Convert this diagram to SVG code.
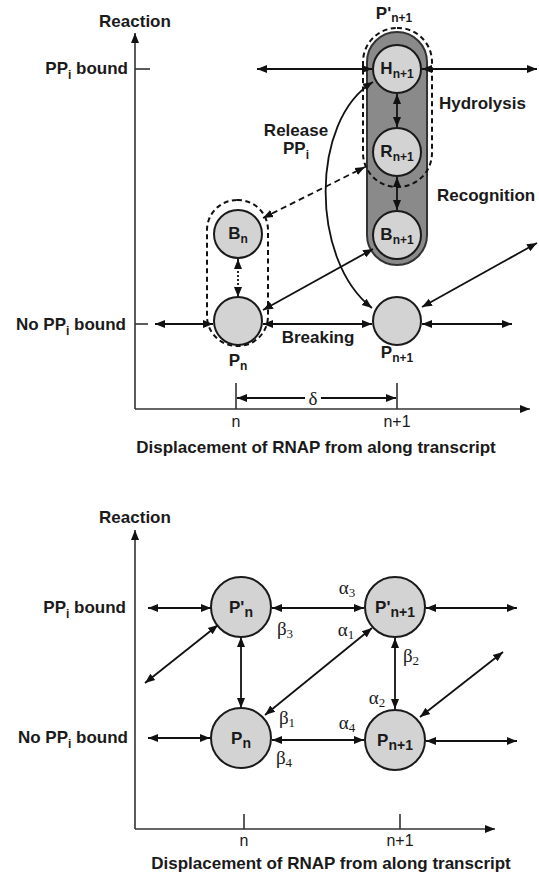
<svg xmlns="http://www.w3.org/2000/svg" width="539" height="878" viewBox="0 0 539 878">
<defs>
<marker id="ah" viewBox="0 0 10 10" refX="10" refY="5" markerWidth="10" markerHeight="10" markerUnits="userSpaceOnUse" orient="auto-start-reverse"><path d="M0,1 L10,5 L0,9 z" fill="#111"/></marker>
</defs>
<style>
.t{font-family:"Liberation Sans",Arial,sans-serif;font-weight:bold;font-size:17px;fill:#1a1a1a}
.s{font-size:12px}
.n{font-family:"Liberation Sans",Arial,sans-serif;font-size:16px;fill:#1a1a1a}
.g{font-family:"Liberation Serif","Times New Roman",serif;font-size:19px;fill:#1a1a1a}
.ax{stroke:#333;stroke-width:1.6;fill:none}
.axa{stroke:#333;stroke-width:1.6;fill:none;marker-end:url(#ah)}
.c{stroke:#1a1a1a;stroke-width:2;fill:#d3d3d3}
.a{stroke:#111;stroke-width:1.8;fill:none;marker-start:url(#ah);marker-end:url(#ah)}
.d{stroke:#111;stroke-width:2;fill:none;stroke-dasharray:5 3.5}
</style>
<rect width="539" height="878" fill="#fff"/>

<!-- ===== TOP DIAGRAM ===== -->
<g id="axes-top">
<line class="axa" x1="135" y1="409" x2="135" y2="33"/>
<line class="axa" x1="135" y1="409" x2="530" y2="409"/>
<line class="ax" x1="135" y1="69" x2="150" y2="69"/>
<line class="ax" x1="135" y1="324" x2="148" y2="324"/>
<line class="ax" x1="236" y1="383" x2="236" y2="409"/>
<line class="ax" x1="397" y1="383" x2="397" y2="409"/>
<text class="t" x="135" y="27" text-anchor="middle">Reaction</text>
<text class="t" x="128" y="74" text-anchor="end">PP<tspan class="s" dy="5">i</tspan><tspan dy="-5"> bound</tspan></text>
<text class="t" x="126" y="330" text-anchor="end">No PP<tspan class="s" dy="5">i</tspan><tspan dy="-5"> bound</tspan></text>
<text class="n" x="236" y="427" text-anchor="middle">n</text>
<text class="n" x="397" y="427" text-anchor="middle">n+1</text>
<text class="t" x="316" y="453" text-anchor="middle">Displacement of RNAP from along transcript</text>
</g>

<g id="capsule">
<rect x="367" y="32" width="60" height="233" rx="30" fill="#8a8a8a" stroke="#333" stroke-width="2"/>
</g>

<g id="group-Pn1prime">
<rect class="d" x="363" y="28" width="69" height="159" rx="34"/>
<text class="t" x="394" y="19" text-anchor="middle">P'<tspan class="s" font-size="13" dy="3">n+1</tspan></text>
</g>

<g id="group-Pn">
<rect class="d" x="207" y="200" width="61" height="146" rx="30"/>
</g>

<g id="connectors-top">
<line class="a" x1="257" y1="69" x2="372" y2="69"/>
<line class="a" x1="422" y1="69" x2="537" y2="69"/>
<line class="a" x1="397" y1="94" x2="397" y2="127"/>
<line class="a" x1="397" y1="177" x2="397" y2="210"/>
<path class="a" d="M373,82 C310,120 310,260 372,308"/>
<line class="a" x1="263" y1="218" x2="365" y2="167" stroke-dasharray="6 4"/>
<line class="a" x1="238" y1="259" x2="238" y2="297" stroke-dasharray="2 2"/>
<line class="a" x1="373" y1="249" x2="263" y2="310"/>
<line class="a" x1="422" y1="307" x2="537" y2="243"/>
<line class="a" x1="155" y1="324" x2="213" y2="324"/>
<line class="a" x1="263" y1="324" x2="372" y2="324"/>
<line class="a" x1="422" y1="324" x2="512" y2="324"/>
<line class="a" x1="237" y1="398" x2="396" y2="398"/>
</g>
<rect x="305" y="387" width="16" height="20" fill="#fff"/>
<text class="g" x="313" y="405" text-anchor="middle">δ</text>

<g id="node-H">
<circle class="c" cx="397" cy="69" r="24"/>
<text class="t" x="397" y="74" text-anchor="middle">H<tspan class="s" font-size="13" dy="4">n+1</tspan></text>
</g>
<g id="node-R">
<circle class="c" cx="397" cy="152" r="24"/>
<text class="t" x="397" y="157" text-anchor="middle">R<tspan class="s" font-size="13" dy="4">n+1</tspan></text>
</g>
<g id="node-Bn1">
<circle class="c" cx="397" cy="235" r="24"/>
<text class="t" x="397" y="240" text-anchor="middle">B<tspan class="s" font-size="13" dy="4">n+1</tspan></text>
</g>
<g id="node-Bn">
<circle class="c" cx="238" cy="234" r="24"/>
<text class="t" x="238" y="239" text-anchor="middle">B<tspan class="s" font-size="13" dy="4">n</tspan></text>
</g>
<g id="node-Pn">
<circle class="c" cx="238" cy="321" r="24"/>
<text class="t" x="238" y="366" text-anchor="middle">P<tspan class="s" font-size="13" dy="4">n</tspan></text>
</g>
<g id="node-Pn1">
<circle class="c" cx="397" cy="321" r="24"/>
<text class="t" x="397" y="358" text-anchor="middle">P<tspan class="s" font-size="13" dy="4">n+1</tspan></text>
</g>

<g id="labels-top">
<text class="t" x="439" y="109">Hydrolysis</text>
<text class="t" x="437" y="201">Recognition</text>
<text class="t" x="296" y="136" text-anchor="middle">Release</text>
<text class="t" x="296" y="154" text-anchor="middle">PP<tspan class="s" dy="5">i</tspan></text>
<text class="t" x="318" y="343" text-anchor="middle" font-size="14.5">Breaking</text>
</g>

<!-- ===== BOTTOM DIAGRAM ===== -->
<g id="axes-bottom">
<line class="axa" x1="135" y1="829" x2="135" y2="530"/>
<line class="axa" x1="135" y1="829" x2="495" y2="829"/>
<line class="ax" x1="244" y1="814" x2="244" y2="829"/>
<line class="ax" x1="400" y1="814" x2="400" y2="829"/>
<text class="t" x="135" y="523" text-anchor="middle">Reaction</text>
<text class="t" x="126" y="613" text-anchor="end">PP<tspan class="s" dy="5">i</tspan><tspan dy="-5"> bound</tspan></text>
<text class="t" x="128" y="743" text-anchor="end">No PP<tspan class="s" dy="5">i</tspan><tspan dy="-5"> bound</tspan></text>
<text class="n" x="244" y="846" text-anchor="middle">n</text>
<text class="n" x="400" y="846" text-anchor="middle">n+1</text>
<text class="t" x="331" y="869" text-anchor="middle">Displacement of RNAP from along transcript</text>
</g>

<g id="connectors-bottom">
<line class="a" x1="148" y1="608" x2="211" y2="608"/>
<line class="a" x1="272" y1="608" x2="364" y2="608"/>
<line class="a" x1="426" y1="608" x2="517" y2="608"/>
<line class="a" x1="241" y1="637" x2="241" y2="708"/>
<line class="a" x1="218" y1="625" x2="145" y2="683"/>
<line class="a" x1="372" y1="628" x2="265" y2="715"/>
<line class="a" x1="395" y1="638" x2="395" y2="709"/>
<line class="a" x1="420" y1="717" x2="503" y2="652"/>
<line class="a" x1="148" y1="738" x2="210" y2="738"/>
<line class="a" x1="272" y1="740" x2="364" y2="740"/>
<line class="a" x1="426" y1="741" x2="517" y2="741"/>
</g>

<g id="greek">
<text class="g" x="347" y="594" text-anchor="middle">α<tspan font-size="13" dy="3">3</tspan></text>
<text class="g" x="285" y="635" text-anchor="middle">β<tspan font-size="13" dy="3">3</tspan></text>
<text class="g" x="346" y="636" text-anchor="middle">α<tspan font-size="13" dy="3">1</tspan></text>
<text class="g" x="411" y="662" text-anchor="middle">β<tspan font-size="13" dy="3">2</tspan></text>
<text class="g" x="377" y="704" text-anchor="middle">α<tspan font-size="13" dy="3">2</tspan></text>
<text class="g" x="287" y="724" text-anchor="middle">β<tspan font-size="13" dy="3">1</tspan></text>
<text class="g" x="347" y="729" text-anchor="middle">α<tspan font-size="13" dy="3">4</tspan></text>
<text class="g" x="284" y="764" text-anchor="middle">β<tspan font-size="13" dy="3">4</tspan></text>
</g>

<g id="node-Ppn">
<circle class="c" cx="241" cy="607" r="30"/>
<text class="t" x="241" y="613" text-anchor="middle" font-size="19">P'<tspan font-size="14" dy="4">n</tspan></text>
</g>
<g id="node-Ppn1">
<circle class="c" cx="395" cy="607" r="30"/>
<text class="t" x="395" y="613" text-anchor="middle" font-size="19">P'<tspan font-size="14" dy="4">n+1</tspan></text>
</g>
<g id="node-Pn-b">
<circle class="c" cx="241" cy="738" r="30"/>
<text class="t" x="241" y="744" text-anchor="middle" font-size="19">P<tspan font-size="14" dy="4">n</tspan></text>
</g>
<g id="node-Pn1-b">
<circle class="c" cx="395" cy="740" r="30"/>
<text class="t" x="395" y="746" text-anchor="middle" font-size="19">P<tspan font-size="14" dy="4">n+1</tspan></text>
</g>
</svg>
